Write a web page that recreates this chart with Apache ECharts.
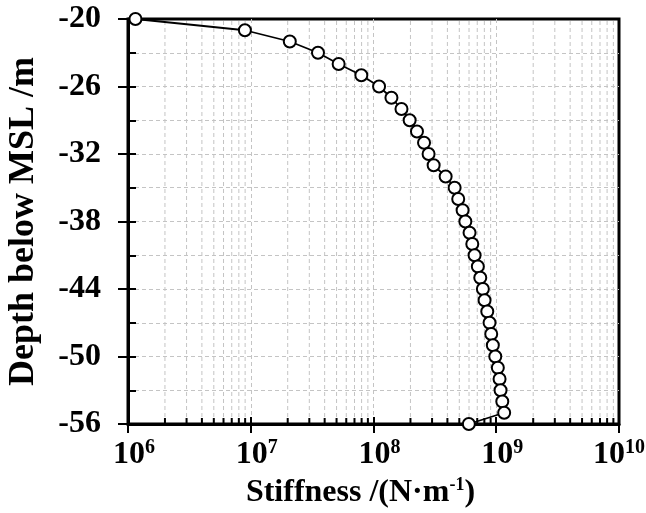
<!DOCTYPE html>
<html>
<head>
<meta charset="utf-8">
<script src="https://cdn.jsdelivr.net/npm/echarts@6/dist/echarts.min.js"></script>
<style>html,body{margin:0;padding:0;background:#fff}#c{width:646px;height:513px}</style>
</head>
<body>
<div id="c"></div>
<script>
// ---- data ----
const depth = [-20, -21, -22, -23, -24, -25, -26, -27, -28, -29, -30, -31, -32, -33, -34, -35, -36, -37, -38,
  -39, -40, -41, -42, -43, -44, -45, -46, -47, -48, -49, -50, -51, -52, -53, -54, -55, -56];
const stiffness = [1.15e6, 8.96e6, 2.08e7, 3.53e7, 5.2e7, 7.96e7, 1.11e8, 1.40e8, 1.69e8, 1.97e8, 2.26e8,
  2.58e8, 2.81e8, 3.09e8, 3.87e8, 4.58e8, 4.9e8, 5.32e8, 5.6e8, 6.06e8, 6.38e8, 6.66e8, 7.08e8, 7.41e8,
  7.78e8, 8.03e8, 8.45e8, 8.82e8, 9.1e8, 9.38e8, 9.82e8, 1.03e9, 1.064e9, 1.084e9, 1.12e9, 1.16e9, 5.98e8];
const xDecades = [6, 7, 8, 9];            // decades that carry minor ticks
const minorMultipliers = [2, 3, 4, 5, 6, 7, 8, 9];
const yMin = -56, yMax = -20;
const xMin = 1e6, xMax = 1e10;
const xTitle = ['Stiffness /(N·m', '-1', ')'];
const yTitle = 'Depth below MSL /m';

const FONT = 'Liberation Serif';
const gridColor = '#c4c4c4';

const minorX = [];
xDecades.forEach(e => minorMultipliers.forEach(m => minorX.push([m * Math.pow(10, e), yMin])));
const points = stiffness.map((s, i) => [s, depth[i]]);

const chart = echarts.init(document.getElementById('c'), null, {renderer: 'canvas'});
const option = {
  animation: false,
  grid: {left: 128, right: 27, top: 19, bottom: 89, show: true, borderColor: '#000', borderWidth: 3,
         backgroundColor: 'rgba(0,0,0,0)', containLabel: false, outerBoundsMode: 'none'},
  xAxis: [{
    type: 'log', logBase: 10, min: xMin, max: xMax, position: 'bottom',
    axisLine: {show: true, lineStyle: {color: '#000', width: 3}},
    axisTick: {show: true, inside: false, length: 9, lineStyle: {color: '#000', width: 2}},
    splitLine: {show: true, showMinLine: false, showMaxLine: false,
                lineStyle: {color: gridColor, type: [4, 3], width: 1}},
    axisLabel: {
      margin: 14, hideOverlap: false,
      formatter: v => {
        const e = Math.round(Math.log10(v));
        return (e < 10 ? '{p|}' : '') + '{b|10}{s|' + e + '}';
      },
      rich: {
        p: {width: 12, fontSize: 32, lineHeight: 34},
        b: {fontFamily: FONT, fontWeight: 'bold', fontSize: 32, lineHeight: 34, color: '#000'},
        s: {fontFamily: FONT, fontWeight: 'bold', fontSize: 20, lineHeight: 20, verticalAlign: 'top', color: '#000'}
      }
    },
    name: '{t|' + xTitle[0] + '}{s|' + xTitle[1] + '}{t|' + xTitle[2] + '}',
    nameLocation: 'middle', nameGap: 50,
    nameTextStyle: {
      padding: [0, 26, 0, 0],
      rich: {
        t: {fontFamily: FONT, fontWeight: 'bold', fontSize: 32, lineHeight: 34, color: '#000'},
        s: {fontFamily: FONT, fontWeight: 'bold', fontSize: 18, lineHeight: 18, verticalAlign: 'top', color: '#000'}
      }
    }
  }, {
    type: 'log', logBase: 10, min: xMin, max: xMax, position: 'bottom',
    axisLine: {show: false},
    axisTick: {show: true, inside: true, length: 7, lineStyle: {color: '#000', width: 2}},
    axisLabel: {show: false},
    splitLine: {show: false}
  }],
  yAxis: [{
    type: 'value', min: yMin, max: yMax, interval: 6, position: 'left',
    axisLine: {show: true, lineStyle: {color: '#000', width: 3}},
    axisTick: {show: true, inside: false, length: 10, lineStyle: {color: '#000', width: 2}},
    splitLine: {show: false},
    axisLabel: {margin: 27, fontFamily: FONT, fontWeight: 'bold', fontSize: 32, color: '#000'},
    name: yTitle, nameLocation: 'middle', nameGap: 86,
    nameTextStyle: {fontFamily: FONT, fontWeight: 'bold', fontSize: 36, color: '#000'}
  }, {
    type: 'value', min: yMin, max: yMax, interval: 3, position: 'left',
    axisLine: {show: false},
    axisTick: {show: true, inside: true, length: 8, lineStyle: {color: '#000', width: 2}},
    axisLabel: {show: false},
    splitLine: {show: true, showMinLine: false, showMaxLine: false,
                lineStyle: {color: gridColor, type: [4, 3], width: 1}}
  }],
  series: [{
    type: 'custom', xAxisIndex: 0, yAxisIndex: 0, data: minorX, silent: true, clip: false, z: 1,
    renderItem: function (params, api) {
      const x = api.value(0);
      const top = api.coord([x, yMax]);
      const bot = api.coord([x, yMin]);
      return {type: 'group', children: [
        {type: 'line', shape: {x1: bot[0], y1: top[1] + 2, x2: bot[0], y2: bot[1] - 2},
         style: {stroke: gridColor, lineWidth: 1, lineDash: [4, 3]}},
        {type: 'line', shape: {x1: bot[0], y1: bot[1], x2: bot[0], y2: bot[1] - 6},
         style: {stroke: '#000', lineWidth: 2}}
      ]};
    }
  }, {
    type: 'line', xAxisIndex: 0, yAxisIndex: 0, data: points, z: 5, clip: false,
    symbol: 'circle', symbolSize: 12, showAllSymbol: true,
    lineStyle: {color: '#000', width: 1.8},
    itemStyle: {color: '#fff', borderColor: '#000', borderWidth: 2}
  }]
};
chart.setOption(option);
</script>
</body>
</html>
